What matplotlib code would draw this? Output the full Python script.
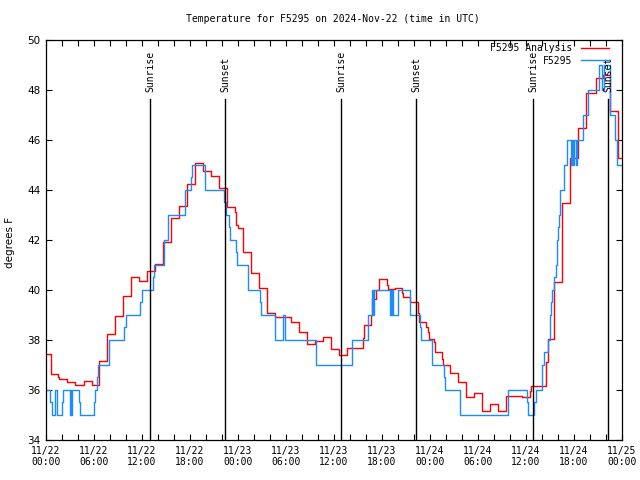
import matplotlib
matplotlib.use("Agg")
import matplotlib.pyplot as plt
import numpy as np

# hours since 2024-11-22 00:00 UTC
red_t = [0, 0.67, 1.5, 1.67, 2.67, 3.67, 4.75, 5.8, 6.67, 7.67, 8.67, 9.63, 10.67, 11.67, 12.67,
         13.6, 14.67, 15.67, 16.67, 17.67, 18.67, 19.67, 20.67, 21.67, 22.67, 23.67, 23.8, 24.04,
         24.67, 25.67, 26.67, 27.67, 28.67, 30.67, 31.67, 32.67, 33.67, 34.67, 35.67, 36.67, 37.6,
         37.67, 39.67, 39.8, 40.6, 40.7, 41.2, 41.67, 42.67, 42.75, 43.67, 44.54, 44.67, 45.54,
         46.54, 46.6, 47.54, 47.75, 47.9, 48.54, 48.6, 49.54, 49.66, 50.54, 51.54, 52.54, 53.54,
         54.54, 55.54, 56.54, 57.54, 59.54, 60.5, 60.66, 62.54, 62.7, 63.54, 64.54, 65.54, 66.54,
         67.54, 68.7, 69.6, 70.5, 71.5]
red_v = [37.43, 36.63, 36.5, 36.44, 36.32, 36.19, 36.35, 36.19, 37.16, 38.24, 38.95, 39.76, 40.52,
         40.36, 40.76, 41.03, 41.91, 42.87, 43.35, 44.24, 45.07, 44.76, 44.56, 44.07, 43.33, 43.13,
         42.6, 42.47, 41.52, 40.67, 40.08, 39.08, 38.9, 38.73, 38.31, 37.83, 37.97, 38.11, 37.64,
         37.39, 37.56, 37.68, 38.09, 38.59, 39.01, 39.63, 40.0, 40.43, 40.2, 40.03, 40.07, 39.89,
         39.73, 39.53, 39.07, 38.71, 38.51, 38.33, 38.03, 37.93, 37.51, 37.23, 36.99, 36.67, 36.33,
         35.71, 35.87, 35.16, 35.43, 35.16, 35.77, 35.73, 35.97, 36.15, 37.13, 38.03, 40.33, 43.47,
         45.3, 46.47, 47.87, 48.47, 48.6, 47.16, 45.3]

blue_t = [0, 0.54, 0.71, 1.08, 1.33, 1.96, 2.1, 3.04, 3.1, 3.15, 3.3, 4.17, 4.3, 6.04, 6.17, 6.42,
          6.54, 7.92, 9.8, 10.0, 11.8, 11.96, 13.4, 13.5, 14.7, 15.2, 15.3, 17.4, 18.1, 18.25, 19.9,
          22.25, 22.5, 22.9, 23.04, 23.7, 23.9, 25.3, 26.8, 26.9, 28.67, 29.6, 29.9, 33.8, 38.2,
          40.3, 40.8, 40.88, 40.95, 43.0, 43.08, 43.15, 43.25, 43.33, 44.0, 45.5, 46.7, 46.9, 48.3,
          49.8, 49.9, 51.8, 57.8, 60.1, 60.3, 61.0, 61.2, 62.0, 62.3, 62.7, 63.0, 63.1, 63.3, 63.5,
          63.8, 63.9, 64.0, 64.1, 64.3, 64.8, 65.1, 65.6, 65.75, 65.9, 66.05, 66.2, 66.4, 67.1,
          67.75, 69.1, 69.5, 69.7, 70.5, 71.1, 71.4]
blue_v = [36, 35.5, 35, 36, 35, 35.5, 36, 35, 36, 35, 36, 35.5, 35, 35.5, 36, 36.5, 37, 38, 38.5,
          39, 39.5, 40, 40.5, 41, 42, 42.5, 43, 44, 44.5, 45, 44, 43.5, 43, 42.5, 42, 41.5, 41, 40,
          39.5, 39, 38, 39, 38, 37, 38, 39, 40, 39, 40, 39, 40, 39, 40, 39, 40, 39, 38.5, 38, 37,
          36.5, 36, 35, 36, 35.5, 35, 35.5, 36, 37, 37.5, 38, 39, 39.5, 40, 40.5, 41, 42, 42.5, 43,
          44, 45, 46, 45, 46, 45, 46, 45, 46, 47, 48, 49, 48, 49, 47, 46, 45]

sun_t = [13.0, 22.375, 36.875, 46.25, 60.875, 70.25]
sun_lbl = ["Sunrise", "Sunset", "Sunrise", "Sunset", "Sunrise", "Sunset"]

xtick_pos = [0, 6, 12, 18, 24, 30, 36, 42, 48, 54, 60, 66, 72]
xtick_lbl = ["11/22\n00:00", "11/22\n06:00", "11/22\n12:00", "11/22\n18:00",
             "11/23\n00:00", "11/23\n06:00", "11/23\n12:00", "11/23\n18:00",
             "11/24\n00:00", "11/24\n06:00", "11/24\n12:00", "11/24\n18:00",
             "11/25\n00:00"]
T_END = 72

mono = "DejaVu Sans Mono"
fig = plt.figure(figsize=(6.4, 4.8), dpi=100)
ax = fig.add_axes([46/640, 40/480, 576/640, 400/480])

ax.step(red_t + [T_END], red_v + [red_v[-1]], where="post", color="#ff0000", lw=1.0,
        label="F5295 Analysis")
ax.step(blue_t + [T_END], blue_v + [blue_v[-1]], where="post", color="#1a8cff", lw=1.0,
        label="F5295")

for t, lbl in zip(sun_t, sun_lbl):
    ax.plot([t, t], [34, 47.64], color="black", lw=1.0)
    ax.text(t, 47.92, lbl, rotation=90, ha="center", va="bottom", fontsize=7, family=mono)

ax.set_xlim(0, T_END)
ax.set_ylim(34, 50)
ax.set_xticks(xtick_pos)
ax.set_xticklabels(xtick_lbl, family=mono, fontsize=7)
ax.set_xticks(np.arange(0, T_END + 1, 2), minor=True)
ax.set_yticks(np.arange(34, 51, 2))
ax.tick_params(axis="y", labelsize=7.5, pad=4)
ax.tick_params(which="both", direction="in", top=True, right=True, length=4, width=0.8)
ax.tick_params(axis="x", pad=4)
for s in ax.spines.values():
    s.set_linewidth(0.9)

fig.text(333/640, 1 - 19/480, "Temperature for F5295 on 2024-Nov-22 (time in UTC)",
         ha="center", va="center", fontsize=7, family=mono)
fig.text(10/640, 1 - 242/480, "degrees F", rotation=90, ha="center", va="center", fontsize=7.5)

leg = ax.legend(loc="upper right", bbox_to_anchor=(0.982, 1.0), frameon=False,
                markerfirst=False, handlelength=2.9, handletextpad=0.8, labelspacing=0.3,
                borderaxespad=0.1, borderpad=0.2, prop={"family": mono, "size": 7})

fig.savefig("out.png", dpi=100)
